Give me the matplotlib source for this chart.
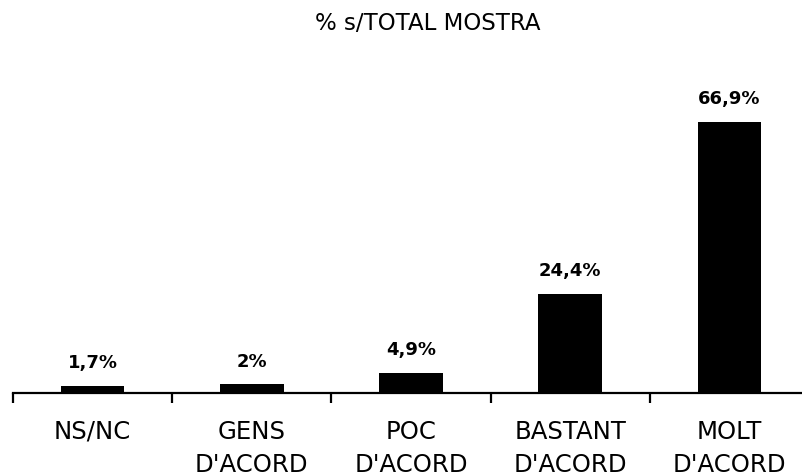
import matplotlib
matplotlib.use("Agg")
import matplotlib.pyplot as plt
from matplotlib.ticker import FixedLocator

categories = ["NS/NC", "GENS\nD'ACORD", "POC\nD'ACORD", "BASTANT\nD'ACORD", "MOLT\nD'ACORD"]
values = [1.7, 2.0, 4.9, 24.4, 66.9]
value_labels = ["1,7%", "2%", "4,9%", "24,4%", "66,9%"]
title = "% s/TOTAL MOSTRA"

W, H = 802, 477
fig = plt.figure(figsize=(W / 100, H / 100), dpi=100)

base_px = 393.5
px_per_unit = 4.04
ymax = 70
ax_h_px = ymax * px_per_unit
left_px = 13
cat_w = 159.2
ax = fig.add_axes([left_px / W, (H - base_px) / H, 5 * cat_w / W, ax_h_px / H])

x = list(range(len(values)))
ax.bar(x, values, width=0.40, color="black")
ax.set_xlim(-0.5, 4.5)
ax.set_ylim(0, ymax)

for sp in ["left", "right", "top"]:
    ax.spines[sp].set_visible(False)
ax.spines["bottom"].set_linewidth(1.6)
ax.yaxis.set_visible(False)

ax.set_xticks(x)
ax.set_xticklabels(categories, fontsize=17.6, family="DejaVu Sans", linespacing=1.5)
ax.tick_params(axis="x", which="major", length=0, pad=19)
ax.xaxis.set_minor_locator(FixedLocator([i - 0.5 for i in range(len(values) + 1)]))
ax.tick_params(axis="x", which="minor", length=7.5, width=1.6, direction="out")

for xi, v, lab in zip(x, values, value_labels):
    ax.annotate(lab, (xi, v), xytext=(0, 13.5), textcoords="offset points",
                ha="center", va="baseline", fontsize=13, fontweight="bold",
                family="DejaVu Sans")

fig.text(428 / W, 1 - 24 / H, title, ha="center", va="center", fontsize=16.5,
         family="DejaVu Sans")

fig.savefig("out.png", dpi=100)
